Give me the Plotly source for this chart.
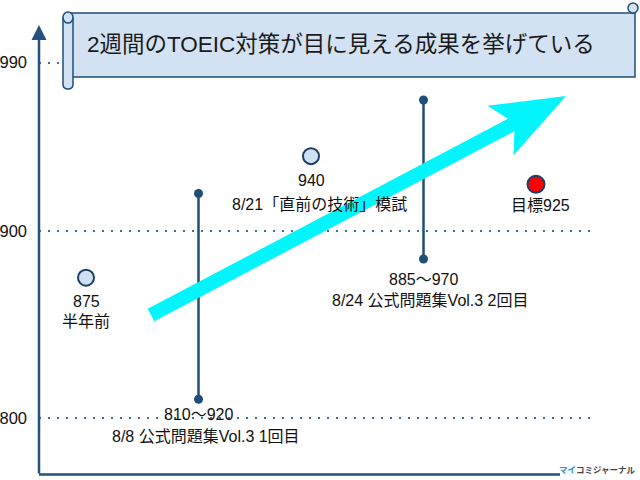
import math
import plotly.graph_objects as go

# ---------------- data ----------------
point_idx = [0, 2]
point_scores = [875, 940]
point_labels = ["875", "940"]
point_captions = ["半年前", "8/21「直前の技術」模試"]
range_idx = [1, 3]
range_low = [810, 885]
range_high = [920, 970]
range_labels = ["810～920", "885～970"]
range_captions = ["8/8 公式問題集Vol.3 1回目", "8/24 公式問題集Vol.3 2回目"]
target_idx = 4
target_score = 925
target_label = "目標925"
tick_vals = [800, 900, 990]
tick_text = ["800", "900", "990"]
title_text = "2週間のTOEIC対策が目に見える成果を挙げている"

# ---------------- layout helpers ----------------
W, H = 640, 480
PL, PR, PT, PB = 39, 595, 0, 475
NAVY = "#1f4e79"
AXIS = "#24527f"
FONT = "Liberation Sans, Arial, Noto Sans CJK JP, sans-serif"


def px(x):
    return (x - PL) / (PR - PL)


def py(y):
    return 1 - (y - PT) / (PB - PT)


fig = go.Figure()

# range bars
for i, lo, hi in zip(range_idx, range_low, range_high):
    fig.add_trace(go.Scatter(
        x=[i, i], y=[lo, hi], mode="lines+markers",
        line=dict(color=NAVY, width=2.5),
        marker=dict(color=NAVY, size=9),
        hoverinfo="skip", showlegend=False))

# actual scores
fig.add_trace(go.Scatter(
    x=point_idx, y=point_scores, mode="markers",
    marker=dict(size=16, color="#cfe0f2", line=dict(color="#1f3f66", width=2)),
    showlegend=False))

# target
fig.add_trace(go.Scatter(
    x=[target_idx], y=[target_score], mode="markers",
    marker=dict(size=17, color="#ff0000", line=dict(color="#1f3f66", width=2)),
    showlegend=False))

ann = []
lab_font = dict(family=FONT, size=16, color="#111")
for i, v, l, c in zip(point_idx, point_scores, point_labels, point_captions):
    ann.append(dict(x=i, y=v, text=l, showarrow=False, yshift=-24, yanchor="middle",
                    font=lab_font))
    ann.append(dict(x=i, y=v, text=c, showarrow=False,
                    yshift=-44 if i == 0 else -48, xshift=0 if i == 0 else 8,
                    yanchor="middle", font=lab_font))
for i, lo, l, c in zip(range_idx, range_low, range_labels, range_captions):
    ann.append(dict(x=i, y=lo, text=l, showarrow=False,
                    yshift=-15 if i == 1 else -20, yanchor="middle", font=lab_font))
    ann.append(dict(x=i, y=lo, text=c, showarrow=False,
                    yshift=-37 if i == 1 else -41, xshift=7,
                    yanchor="middle", font=lab_font))
ann.append(dict(x=target_idx, y=target_score, text=target_label, showarrow=False,
                yshift=-21, xshift=4, yanchor="middle", font=lab_font))

# y axis with arrowhead
ann.append(dict(x=0, y=py(25), xref="paper", yref="paper", text="",
                showarrow=True, ax=0, ay=450, axref="pixel", ayref="pixel",
                arrowhead=2, arrowsize=1.2, arrowwidth=2.5, arrowcolor=AXIS))

# title in banner
ann.append(dict(x=px(341.5), y=py(45), xref="paper", yref="paper", text=title_text,
                xanchor="center", yanchor="middle",
                showarrow=False, font=dict(family=FONT, size=22.5, color="#1a1a1a")))

# watermark
ann.append(dict(x=px(597), y=py(469), xref="paper", yref="paper",
                xanchor="center", yanchor="middle",
                text="<b><span style='color:#2a8fd6'>マイ</span>コミジャーナル</b>",
                showarrow=False, font=dict(family="Noto Sans CJK JP", size=8.5, color="#444")))

shapes = []
# x axis line
shapes.append(dict(type="line", xref="paper", yref="paper", x0=px(39), x1=px(560),
                   y0=py(474.5), y1=py(474.5), line=dict(color=AXIS, width=2.5)))

# cyan arrow polygon
tail = (151, 315)
tip = (566, 96)
dx, dy = tip[0] - tail[0], tip[1] - tail[1]
L = math.hypot(dx, dy)
ux, uy = dx / L, dy / L
nx, ny = -uy, ux
hw, head_len, head_hw, notch = 7, 74, 28, 62


def P(a, b):
    return (tip[0] + ux * a + nx * b, tip[1] + uy * a + ny * b)


pts = [P(-L, -hw), P(-notch, -hw), P(-head_len, -head_hw), P(0, 0),
       P(-head_len, head_hw), P(-notch, hw), P(-L, hw)]
path = "M " + " L ".join(f"{px(x):.5f},{py(y):.5f}" for x, y in pts) + " Z"
shapes.append(dict(type="path", xref="paper", yref="paper", path=path,
                   fillcolor="#00f6fc", line=dict(width=0), layer="above"))

# banner (scroll)
BF = "#d3e2f3"
shapes.append(dict(type="rect", xref="paper", yref="paper",
                   x0=px(66), x1=px(635), y0=py(13), y1=py(77),
                   fillcolor=BF, line=dict(color=NAVY, width=1.5), layer="above"))
roll = (f"M {px(63)},{py(18)} L {px(63)},{py(84)} "
        f"Q {px(63)},{py(89)} {px(68)},{py(89)} Q {px(73)},{py(89)} {px(73)},{py(84)} "
        f"L {px(73)},{py(18)} Z")
shapes.append(dict(type="path", xref="paper", yref="paper", path=roll,
                   fillcolor=BF, line=dict(color=NAVY, width=1.5), layer="above"))
shapes.append(dict(type="circle", xref="paper", yref="paper",
                   x0=px(63), x1=px(73), y0=py(12), y1=py(23),
                   fillcolor=BF, line=dict(color=NAVY, width=1.5), layer="above"))
shapes.append(dict(type="circle", xref="paper", yref="paper",
                   x0=px(628), x1=px(638), y0=py(3), y1=py(13),
                   fillcolor=BF, line=dict(color=NAVY, width=1.5), layer="above"))

fig.update_layout(
    width=W, height=H, autosize=False,
    margin=dict(l=PL, r=W - PR, t=PT, b=H - PB),
    paper_bgcolor="white", plot_bgcolor="white",
    showlegend=False,
    annotations=ann, shapes=shapes,
    xaxis=dict(range=[(39 - 86) / 112.5, (595 - 86) / 112.5], showgrid=False,
               zeroline=False, showticklabels=False, showline=False, fixedrange=True),
    yaxis=dict(range=[769.5, 1023.5], tickvals=tick_vals, ticktext=tick_text,
               showgrid=True, gridcolor="#3a6ea5", gridwidth=2, griddash="2px,7px",
               zeroline=False, showline=False, ticks="", ticklabelstandoff=11,
               tickfont=dict(family=FONT, size=16.5, color="#111"), fixedrange=True),
)

fig.write_html("out.html", config={"displayModeBar": False},
               post_script="document.body.style.margin='0';document.body.style.overflow='hidden';")
